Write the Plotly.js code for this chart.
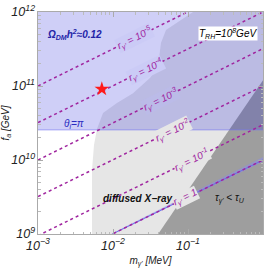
<!DOCTYPE html>
<html><head><meta charset="utf-8">
<script src="https://cdn.plot.ly/plotly-3.0.1.min.js"></script>
<style>html,body{margin:0;padding:0;background:#fff}#c{width:266px;height:268px}</style>
</head><body><div id="c"></div>
<script>
// X-ray exclusion boundary (m [MeV], fa [GeV])
const xrayM = [0.00525, 0.00525, 0.00558, 0.00612, 0.00736, 0.0113, 0.0185, 0.0311, 0.0398, 0.0436, 0.0509, 0.1167, 1, 1];
const xrayF = [1e9, 7.3e9, 1.6e10, 2.62e10, 4.3e10, 5.9e10, 8.0e10, 1.28e11, 1.81e11, 3.8e11, 5.7e11, 1e12, 1e12, 1e9];
// lifetime region
const tauM = [0.04, 1, 1];
const tauF = [1e9, 1.2e11, 1e9];
// relic abundance region
const omegaM = [1e-3, 1, 1, 1e-3];
const omegaF = [2.55e10, 2.55e10, 1e12, 1e12];
// r = 1 band
const bandM = [0.0098, 1, 1, 0.0098];
const bandF = [0.99e9, 9.5e9, 1.1e10, 1.02e9];
// r lines
const rLabels = ["10<sup>-5</sup>", "10<sup>-4</sup>", "10<sup>-3</sup>", "10<sup>-2</sup>", "10<sup>-1</sup>", "1"];
const rLineM = [1e-3, 1];
const rLineF = [[1e11, 3.2e12], [3.2e10, 1e12], [1e10, 3.2e11], [3.2e9, 1e11], [0.95e9, 3.0e10], [3.2e8, 1e10]];
const rLabelM = [0.0196, 0.0275, 0.0424, 0.0612, 0.113, 0.094];
const rLabelBg = ["#cbcbf6", "#cbcbf6", "#bbbbe8", "#e6e6e6", "#e6e6e6", "#e6e6e6"];
// benchmark point
const starM = [0.0071];
const starF = [9.1e10];

const FONT = "Liberation Sans, Arial, sans-serif";
const purple = "#a0259f";
const traces = [];
traces.push({x: xrayM, y: xrayF, mode: "lines", fill: "toself", fillcolor: "#e6e6e6", line: {width: 0}, hoverinfo: "skip"});
traces.push({x: tauM, y: tauF, mode: "lines", fill: "toself", fillcolor: "#9e9e9e", line: {width: 0}, hoverinfo: "skip"});
traces.push({x: bandM, y: bandF, mode: "lines", fill: "toself", fillcolor: "rgba(140,140,235,0.5)", line: {width: 0}, hoverinfo: "skip"});
traces.push({x: rLineM, y: rLineF[5], mode: "lines", line: {color: "rgba(100,100,235,0.85)", width: 1}, hoverinfo: "skip"});
traces.push({x: omegaM, y: omegaF, mode: "lines", fill: "toself", fillcolor: "rgba(30,30,215,0.21)", line: {width: 0}, hoverinfo: "skip"});
traces.push({x: [omegaM[0], omegaM[1]], y: [omegaF[0], omegaF[1]], mode: "lines", line: {color: "rgba(120,120,240,0.6)", width: 1}, hoverinfo: "skip"});
rLineF.forEach(f => traces.push({x: rLineM, y: f, mode: "lines", line: {color: purple, width: 1.5, dash: "3px,3px"}, hoverinfo: "skip"}));
traces.push({x: starM, y: starF, mode: "markers", marker: {symbol: "star", size: 11, color: "#ff1a1a", line: {width: 0}}, hoverinfo: "skip"});

const annotations = [];
rLabels.forEach((lab, i) => {
  const lm = Math.log10(rLabelM[i]);
  const l0 = Math.log10(rLineM[0]), l1 = Math.log10(rLineM[1]);
  const f0 = Math.log10(rLineF[i][0]), f1 = Math.log10(rLineF[i][1]);
  const lf = f0 + (f1 - f0) * (lm - l0) / (l1 - l0);
  annotations.push({x: lm, y: lf, xref: "x", yref: "y", text: "r<sub>γ'</sub> = " + lab, showarrow: false,
    textangle: -26.3, font: {family: FONT, size: 10, color: purple, style: "italic"}, bgcolor: rLabelBg[i], borderpad: 0});
});
annotations.push({x: -2.52, y: 11.69, xref: "x", yref: "y", text: "<b>Ω<sub>DM</sub>h<sup>2</sup>≈0.12</b>", showarrow: false, font: {family: FONT, size: 10, color: "#2424a8", style: "italic"}});
annotations.push({x: -0.467, y: 11.716, xref: "x", yref: "y", text: "T<sub>RH</sub>=10<sup>8</sup>GeV", showarrow: false, bgcolor: "#ffffff", borderpad: 0, font: {family: FONT, size: 10, color: "#000", style: "italic"}});
annotations.push({x: -2.52, y: 10.486, xref: "x", yref: "y", text: "θ<sub>i</sub>=π", showarrow: false, font: {family: FONT, size: 10, color: "#2a2ac0", style: "italic"}});
annotations.push({x: -1.68, y: 9.486, xref: "x", yref: "y", text: "<b>diffused X−ray</b>", showarrow: false, font: {family: FONT, size: 10, color: "#111", style: "italic"}});
annotations.push({x: -0.44, y: 9.486, xref: "x", yref: "y", text: "τ<sub>γ'</sub> < τ<sub>U</sub>", showarrow: false, font: {family: FONT, size: 10, color: "#111", style: "italic"}});

const axisCommon = {type: "log", showgrid: false, zeroline: false, showline: true, linecolor: "#aaaaaa", linewidth: 1, mirror: "ticks",
  ticks: "inside", ticklen: 5, tickcolor: "#aaaaaa", dtick: 1, exponentformat: "power",
  minor: {ticks: "inside", ticklen: 2.5, tickcolor: "#bbbbbb"},
  tickfont: {family: FONT, size: 10, color: "#222", style: "italic"}};

const layout = {
  width: 266, height: 268, margin: {l: 38, r: 3, t: 12, b: 34}, showlegend: false,
  paper_bgcolor: "#fff", plot_bgcolor: "#fff",
  xaxis: Object.assign({}, axisCommon, {range: [-3, 0], title: {text: "m<sub>γ'</sub> [MeV]", standoff: 6, font: {family: FONT, size: 10, color: "#222", style: "italic"}}}),
  yaxis: Object.assign({}, axisCommon, {range: [9, 12], title: {text: "f<sub>a</sub> [GeV]", standoff: 2, font: {family: FONT, size: 10, color: "#222", style: "italic"}}}),
  annotations: annotations
};
Plotly.newPlot("c", traces, layout, {displayModeBar: false, staticPlot: true});
</script></body></html>
